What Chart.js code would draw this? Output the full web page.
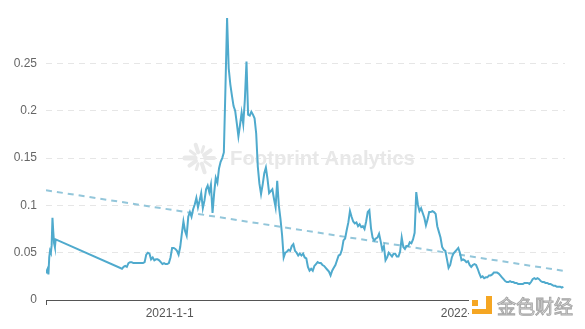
<!DOCTYPE html>
<html>
<head>
<meta charset="utf-8">
<script src="https://cdn.jsdelivr.net/npm/chart.js@4.4.0/dist/chart.umd.min.js"></script>
<style>
  html, body { margin: 0; padding: 0; background: #fff; }
</style>
</head>
<body>
<canvas id="chart" width="585" height="329"></canvas>
<script>
'use strict';

/* ─── Data ──────────────────────────────────────────────────── */
// first short run of daily values
const earlyStart  = '2020-08-01';
const earlyValues = [0.029, 0.031, 0.033, 0.027, 0.045, 0.052, 0.050, 0.058, 0.087, 0.072, 0.060, 0.056, 0.064];

// main run, one value every 2 days
const mainStart    = '2020-11-03';
const mainStepDays = 2;
const mainValues = [
  0.033, 0.035, 0.036, 0.035, 0.039, 0.040, 0.040, 0.039, 0.039, 0.039,
  0.039, 0.039, 0.039, 0.039, 0.040, 0.048, 0.050, 0.049, 0.043, 0.045,
  0.042, 0.043, 0.043, 0.042, 0.040, 0.038, 0.039, 0.038, 0.038, 0.039,
  0.045, 0.055, 0.055, 0.054, 0.052, 0.048, 0.056, 0.070, 0.083, 0.073,
  0.068, 0.088, 0.093, 0.088, 0.096, 0.101, 0.108, 0.098, 0.105, 0.113,
  0.097, 0.105, 0.117, 0.121, 0.114, 0.122, 0.092, 0.113, 0.129, 0.124,
  0.139, 0.146, 0.150, 0.156, 0.225, 0.298, 0.245, 0.228, 0.216, 0.205,
  0.200, 0.187, 0.173, 0.185, 0.198, 0.186, 0.212, 0.252, 0.196, 0.195,
  0.199, 0.196, 0.192, 0.176, 0.141, 0.123, 0.112, 0.122, 0.134, 0.140,
  0.128, 0.113, 0.115, 0.117, 0.107, 0.098, 0.126, 0.100, 0.086, 0.069,
  0.045, 0.050, 0.051, 0.053, 0.052, 0.057, 0.059, 0.052, 0.050, 0.047,
  0.049, 0.047, 0.049, 0.045, 0.044, 0.035, 0.031, 0.033, 0.031, 0.036,
  0.038, 0.040, 0.039, 0.039, 0.037, 0.036, 0.034, 0.032, 0.030, 0.026,
  0.031, 0.034, 0.037, 0.042, 0.047, 0.048, 0.053, 0.063, 0.065, 0.074,
  0.082, 0.094, 0.088, 0.083, 0.081, 0.082, 0.078, 0.080, 0.077, 0.078,
  0.075, 0.083, 0.093, 0.095, 0.076, 0.066, 0.063, 0.065, 0.066, 0.070,
  0.062, 0.053, 0.057, 0.042, 0.045, 0.050, 0.048, 0.046, 0.049, 0.049,
  0.046, 0.046, 0.051, 0.066, 0.056, 0.054, 0.057, 0.057, 0.061, 0.060,
  0.064, 0.071, 0.114, 0.101, 0.094, 0.097, 0.092, 0.087, 0.079, 0.085,
  0.093, 0.093, 0.094, 0.093, 0.091, 0.078, 0.072, 0.066, 0.056, 0.053,
  0.052, 0.043, 0.034, 0.037, 0.045, 0.049, 0.051, 0.053, 0.055, 0.050,
  0.042, 0.043, 0.042, 0.040, 0.041, 0.037, 0.035, 0.037, 0.038, 0.037,
  0.033, 0.028, 0.024, 0.025, 0.023, 0.024, 0.024, 0.026, 0.026, 0.027,
  0.029, 0.029, 0.029, 0.028, 0.026, 0.024, 0.022, 0.020, 0.019, 0.019,
  0.020, 0.019, 0.019, 0.018, 0.018, 0.017, 0.017, 0.017, 0.017, 0.018,
  0.018, 0.018, 0.017, 0.019, 0.022, 0.023, 0.022, 0.023, 0.022, 0.020,
  0.019, 0.019, 0.018, 0.018, 0.017, 0.017, 0.016, 0.015, 0.015, 0.014,
  0.014, 0.014, 0.013, 0.014
];

// dashed trend line, first and last date
const trendDates  = ['2020-08-01', '2022-05-04'];
const trendValues = [0.116, 0.0307];

// axes
const xMin       = '2020-08-01';
const xMax       = '2022-05-05';
const xTickDates = ['2021-01-01', '2022-01-01'];
const yTicks     = [0, 0.05, 0.1, 0.15, 0.2, 0.25];
const yMax       = 0.3;

/* ─── Helpers ───────────────────────────────────────────────── */
const DAY  = 86400000;
const toMs = s => Date.parse(s + 'T00:00:00Z');
const fmtDate = ms => {
  const d = new Date(ms);
  return `${d.getUTCFullYear()}-${d.getUTCMonth() + 1}-${d.getUTCDate()}`;
};

const seriesPoints = [
  ...earlyValues.map((v, i) => ({ x: toMs(earlyStart) + i * DAY, y: v })),
  ...mainValues.map((v, i) => ({ x: toMs(mainStart) + i * mainStepDays * DAY, y: v })),
];
const trendPoints = trendDates.map((d, i) => ({ x: toMs(d), y: trendValues[i] }));

/* ─── Decorations ───────────────────────────────────────────── */
const watermark = {
  id: 'watermark',
  beforeDatasetsDraw(chart) {
    const ctx = chart.ctx;
    ctx.save();
    // sunburst icon
    const cx = 200, cy = 158;
    ctx.strokeStyle = '#e9e9e9';
    ctx.lineCap = 'round';
    const rays = [[0, 5, 14, 4], [36, 6, 13, 3], [72, 6, 15, 4], [108, 6, 12, 3], [144, 5, 13, 4],
                  [180, 5, 15, 5], [216, 6, 12, 3], [252, 6, 14, 4], [288, 6, 12, 3], [324, 5, 13, 4]];
    rays.forEach(([deg, r0, r1, w]) => {
      const a = deg * Math.PI / 180;
      ctx.lineWidth = w;
      ctx.beginPath();
      ctx.moveTo(cx + Math.cos(a) * r0, cy + Math.sin(a) * r0);
      ctx.lineTo(cx + Math.cos(a) * r1, cy + Math.sin(a) * r1);
      ctx.stroke();
    });
    // text
    const text = 'Footprint Analytics';
    ctx.font = 'bold 20px "Liberation Sans", Arial, sans-serif';
    const w = ctx.measureText(text).width;
    const size = 20 * 185 / w;
    ctx.font = `bold ${size.toFixed(1)}px "Liberation Sans", Arial, sans-serif`;
    ctx.fillStyle = '#e8e8e8';
    ctx.textBaseline = 'middle';
    ctx.fillText(text, 230, 159);
    ctx.restore();
  }
};

const brandLogo = {
  id: 'brandLogo',
  afterDraw(chart) {
    const ctx = chart.ctx;
    ctx.save();
    ctx.fillStyle = '#fff';
    ctx.fillRect(469, 296, 110, 26);
    // orange mark
    ctx.fillStyle = '#f5a623';
    ctx.fillRect(472, 300, 6, 6);
    ctx.fillRect(486, 296, 6, 18);
    ctx.fillRect(472, 309, 20, 5);
    // text
    ctx.font = '19px "Noto Sans CJK SC", sans-serif';
    ctx.textBaseline = 'middle';
    ctx.lineWidth = 0.9;
    ctx.strokeStyle = '#a5a5a5';
    ctx.fillStyle = '#dcdcdc';
    ctx.fillText('金色财经', 497, 307);
    ctx.strokeText('金色财经', 497, 307);
    ctx.restore();
  }
};

/* ─── Chart ─────────────────────────────────────────────────── */
const minMs = toMs(xMin);

new Chart(document.getElementById('chart'), {
  type: 'line',
  data: {
    datasets: [
      {
        label: 'Value',
        data: seriesPoints,
        borderColor: '#4faacd',
        borderWidth: 2,
        pointRadius: 0,
        tension: 0,
        order: 1,
      },
      {
        label: 'Trend',
        data: trendPoints,
        borderColor: '#93c6da',
        borderWidth: 2,
        borderDash: [6, 5],
        pointRadius: 0,
        order: 2,
      }
    ]
  },
  options: {
    responsive: false,
    animation: false,
    layout: { padding: { top: 13, right: 20, left: 0, bottom: 0 } },
    plugins: {
      legend:  { display: false },
      tooltip: { enabled: false },
    },
    scales: {
      x: {
        type: 'linear',
        min: minMs,
        max: toMs(xMax),
        afterBuildTicks: scale => {
          scale.ticks = [xMin, ...xTickDates].map(s => ({ value: toMs(s) }));
        },
        afterFit: scale => { scale.height = 29; },
        ticks: {
          autoSkip: false,
          maxRotation: 0,
          padding: 1,
          color: '#555',
          font: { size: 12, family: '"Liberation Sans", Arial, sans-serif' },
          callback: v => (v === minMs ? '' : fmtDate(v)),
        },
        grid: {
          drawOnChartArea: false,
          drawTicks: true,
          tickLength: 5,
          color: c => (c.tick && c.tick.value === minMs ? '#555' : 'transparent'),
        },
        border: { display: true, color: '#555', width: 1 },
      },
      y: {
        min: 0,
        max: yMax,
        afterBuildTicks: scale => {
          scale.ticks = yTicks.map(v => ({ value: v }));
        },
        afterFit: scale => { scale.width = 46; },
        ticks: {
          padding: 9,
          color: '#666',
          font: { size: 12, family: '"Liberation Sans", Arial, sans-serif' },
          callback: v => String(v),
        },
        grid: {
          drawTicks: false,
          color: c => (c.tick && c.tick.value === 0 ? 'transparent' : '#e6e6e6'),
        },
        border: { display: false, dash: [6, 5] },
      }
    }
  },
  plugins: [watermark, brandLogo]
});
</script>
</body>
</html>
